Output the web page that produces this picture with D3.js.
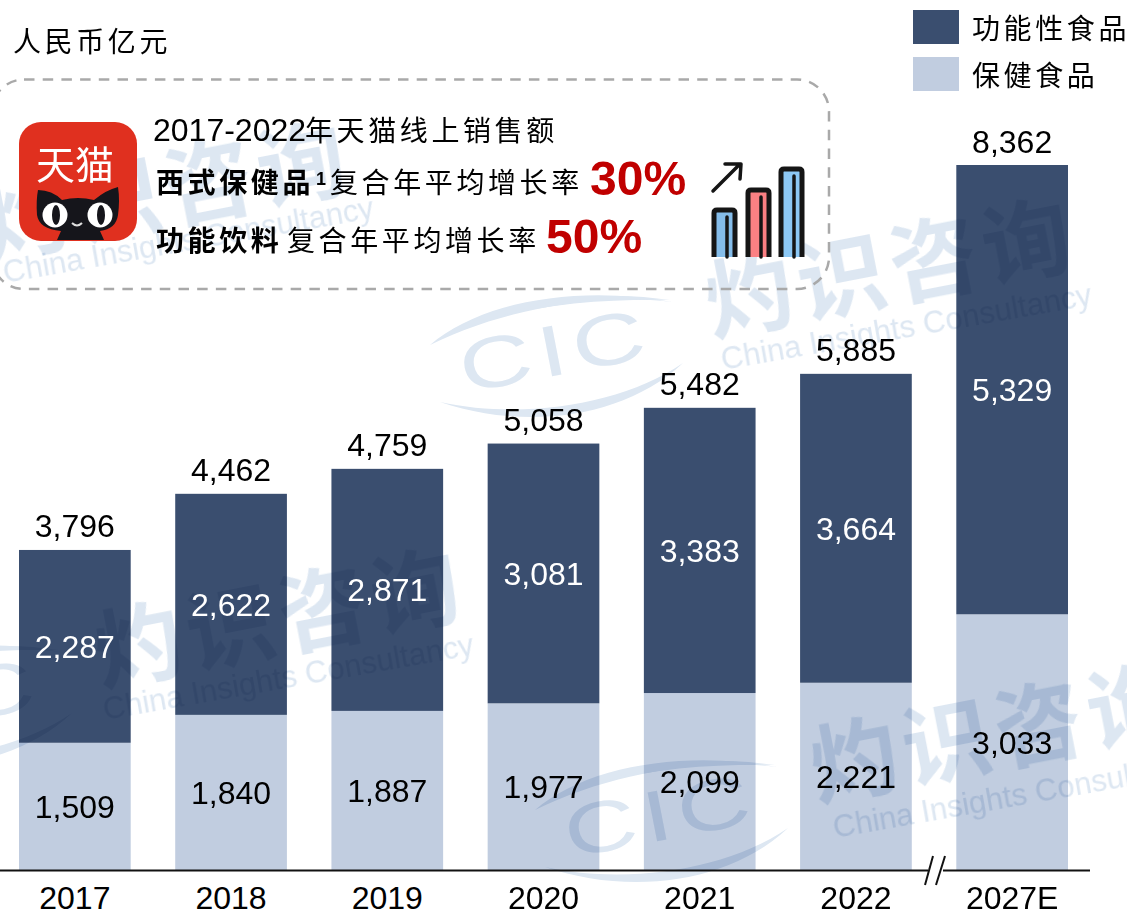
<!DOCTYPE html>
<meta charset="utf-8">
<style>
    body{ margin: 0; background: #fff; }
    svg{ display: block; }
    text{ font-family: "Liberation Sans", Arial, sans-serif; fill: #000; }
    .cjk{ font-family: "Noto Sans CJK SC", sans-serif; letter-spacing: 3.6px; }
    .watermark{ mix-blend-mode: multiply; }
    .watermark text, .watermark path{ fill: #dde7f2; }
</style>

<svg width="1127" height="911"></svg>

<script src="https://cdn.jsdelivr.net/npm/d3@7"></script>
<script>
    var categories = ["2017", "2018", "2019", "2020", "2021", "2022", "2027E"],
        healthFood = [1509, 1840, 1887, 1977, 2099, 2221, 3033],
        functionalFood = [2287, 2622, 2871, 3081, 3383, 3664, 5329],
        totals = [3796, 4462, 4759, 5058, 5482, 5885, 8362],
        seriesNames = ["功能性食品", "保健食品"],
        seriesColors = ["#3a4e6f", "#c1cde0"];

    // 水印位置
    var watermarkOrigins = [[-13, 258], [712, 335], [101, 685], [817, 800]],
        watermarkEnglish = [[5, 283], [723, 370], [105, 720], [835, 838]];

    var svg = d3.select("svg"),
        baseline = 870,
        format = d3.format(","),
        xScale = d3.scaleBand().domain(categories).range([19, 1068]).paddingInner(0.285).paddingOuter(0),
        yScale = d3.scaleLinear().domain([0, 8362]).range([baseline, 165]);

    function put(parent, str, x, y, size, opts) {
        opts = opts || {};
        return parent.append("text")
            .attr("class", opts.cjk ? "cjk" : null)
            .attr("x", x)
            .attr("y", y)
            .attr("font-size", size)
            .attr("font-weight", opts.bold ? "bold" : null)
            .attr("text-anchor", opts.anchor || null)
            .style("fill", opts.fill || null)
            .text(str);
    }

    // 柱子
    var stack = [
        {values: healthFood, base: categories.map(function () { return 0; }), color: seriesColors[1], text: "#000"},
        {values: functionalFood, base: healthFood, color: seriesColors[0], text: "#fff"}
    ];
    stack.forEach(function (s) {
        svg.append("g").selectAll("rect")
            .data(s.values)
            .enter().append("rect")
            .attr("x", function (d, i) { return xScale(categories[i]); })
            .attr("width", xScale.bandwidth())
            .attr("y", function (d, i) { return yScale(s.base[i] + d); })
            .attr("height", function (d) { return baseline - yScale(d); })
            .attr("fill", s.color);
    });

    // 水印
    watermarkOrigins.forEach(function (o, i) {
        var g = svg.append("g").attr("class", "watermark").attr("transform", "translate(" + o + ")"),
            r = g.append("g").attr("transform", "rotate(-11)");
        r.append("text").attr("font-size", 88).attr("font-weight", 700)
            .style("font-family", "'Noto Sans CJK SC', sans-serif").style("letter-spacing", "6px")
            .text("灼识咨询");
        r.append("text").attr("transform", "translate(-254,10) scale(1.4,1)")
            .attr("font-size", 72).style("letter-spacing", "5px").text("CIC");
        g.append("path").attr("d", "M-282,10C-230,-35-130,-50-40,-33C-120,-42-210,-25-282,10Z");
        g.append("path").attr("d", "M-215,-18C-150,-42-90,-42-42,-35C-100,-36-160,-32-215,-18Z");
        g.append("path").attr("d", "M-272,67C-190,95-90,85-29,28C-90,70-190,85-272,67Z");
        svg.append("text").attr("class", "watermark")
            .attr("transform", "translate(" + watermarkEnglish[i] + ") rotate(-10)")
            .attr("font-size", 31).style("fill", "#dde7f2")
            .text("China Insights Consultancy");
    });

    // 数值标签
    stack.forEach(function (s) {
        svg.append("g").selectAll("text")
            .data(s.values)
            .enter().append("text")
            .attr("x", function (d, i) { return xScale(categories[i]) + xScale.bandwidth() / 2; })
            .attr("y", function (d, i) { return yScale(s.base[i] + d / 2) + 11.5; })
            .attr("text-anchor", "middle")
            .attr("font-size", 32)
            .style("fill", s.text)
            .text(format);
    });
    svg.append("g").selectAll("text")
        .data(totals)
        .enter().append("text")
        .attr("x", function (d, i) { return xScale(categories[i]) + xScale.bandwidth() / 2; })
        .attr("y", function (d) { return yScale(d) - 12.5; })
        .attr("text-anchor", "middle")
        .attr("font-size", 32)
        .text(format);

    // 坐标轴
    var xAxis = d3.axisBottom(xScale).tickSize(0).tickPadding(16);
    var axisG = svg.append("g").attr("transform", "translate(0," + baseline + ")").call(xAxis);
    axisG.select(".domain").remove();
    axisG.selectAll("text").attr("font-size", 32).style("font-family", "'Liberation Sans', Arial, sans-serif");
    [[0, 928, 0.5, 0.5], [943, 1090, 0.5, 0.5], [925, 933, 15, -14], [936, 945, 15, -14]].forEach(function (l) {
        axisG.append("line")
            .attr("x1", l[0]).attr("x2", l[1]).attr("y1", l[2]).attr("y2", l[3])
            .attr("stroke", "#111").attr("stroke-width", 2);
    });

    // 单位和图例
    put(svg, "人民币亿元", 13, 52, 28, {cjk: true});
    seriesNames.forEach(function (name, i) {
        svg.append("rect").attr("x", 913).attr("y", 10 + i * 47).attr("width", 46).attr("height", 34)
            .attr("fill", seriesColors[i]);
        put(svg, name, 972, 39 + i * 47, 28, {cjk: true});
    });

    // 虚线框
    svg.append("rect")
        .attr("x", -8).attr("y", 79.5).attr("width", 837).attr("height", 209.5).attr("rx", 32)
        .attr("fill", "none").attr("stroke", "#a9a9a9").attr("stroke-width", 2.5)
        .attr("stroke-dasharray", "10.5 8.2");

    // 框内文字
    put(svg, "2017-2022", 153, 141, 32);
    put(svg, "年天猫线上销售额", 305, 141, 28, {cjk: true});
    put(svg, "西式保健品", 156, 193, 28, {cjk: true, bold: true});
    put(svg, "1", 316, 185, 18, {bold: true});
    put(svg, "复合年平均增长率", 330, 193, 28, {cjk: true});
    put(svg, "30%", 590, 195, 48, {bold: true, fill: "#c00000"});
    put(svg, "功能饮料", 156, 251, 28, {cjk: true, bold: true});
    put(svg, "复合年平均增长率", 287, 251, 28, {cjk: true});
    put(svg, "50%", 546, 253, 48, {bold: true, fill: "#c00000"});

    // 天猫图标
    var logo = svg.append("g");
    logo.append("rect").attr("x", 19).attr("y", 122).attr("width", 118).attr("height", 119).attr("rx", 22).attr("fill", "#e0301f");
    put(logo, "天猫", 36, 179, 39, {fill: "#fff"}).style("font-family", "'Noto Sans CJK SC', sans-serif");
    logo.append("path").attr("fill", "#15151b")
        .attr("d", "M38,190Q52,190 62,200Q78,196 94,200Q106,190 118,187Q120,200 118,215Q116,229 100,231L104,240L57,240L61,231Q39,229 37,215Q36,200 38,190Z");
    [[55, 215], [100, 215]].forEach(function (c) {
        logo.append("circle").attr("cx", c[0]).attr("cy", c[1]).attr("r", 12.5).attr("fill", "#fff");
        logo.append("ellipse").attr("cx", c[0] + 1).attr("cy", c[1]).attr("rx", 4).attr("ry", 10).attr("fill", "#15151b");
    });
    logo.append("path").attr("d", "M72,223Q77,228 82,223").attr("fill", "none").attr("stroke", "#ddd").attr("stroke-width", 2);

    // 增长图标
    var icon = svg.append("g").attr("fill", "none").attr("stroke", "#151515").attr("stroke-width", 5);
    [[714, 210, "#85bdea"], [748, 190, "#fb8083"], [781, 169, "#8cc8f5"]].forEach(function (b) {
        icon.append("path").attr("fill", b[2])
            .attr("d", "M" + b[0] + ",257V" + (b[1] + 3) + "Q" + b[0] + "," + b[1] + " " + (b[0] + 3) + "," + b[1]
                + "H" + (b[0] + 18) + "Q" + (b[0] + 21) + "," + b[1] + " " + (b[0] + 21) + "," + (b[1] + 3) + "V257");
        icon.append("line").attr("x1", b[0] + 13).attr("x2", b[0] + 13).attr("y1", b[1] + 7).attr("y2", 257)
            .attr("stroke-linecap", "round").attr("stroke-width", 3.5);
    });
    icon.append("path").attr("stroke-linecap", "round").attr("stroke-linejoin", "round").attr("stroke-width", 3.5)
        .attr("d", "M713,191L740,164M725,164H741L740,179");
</script>
